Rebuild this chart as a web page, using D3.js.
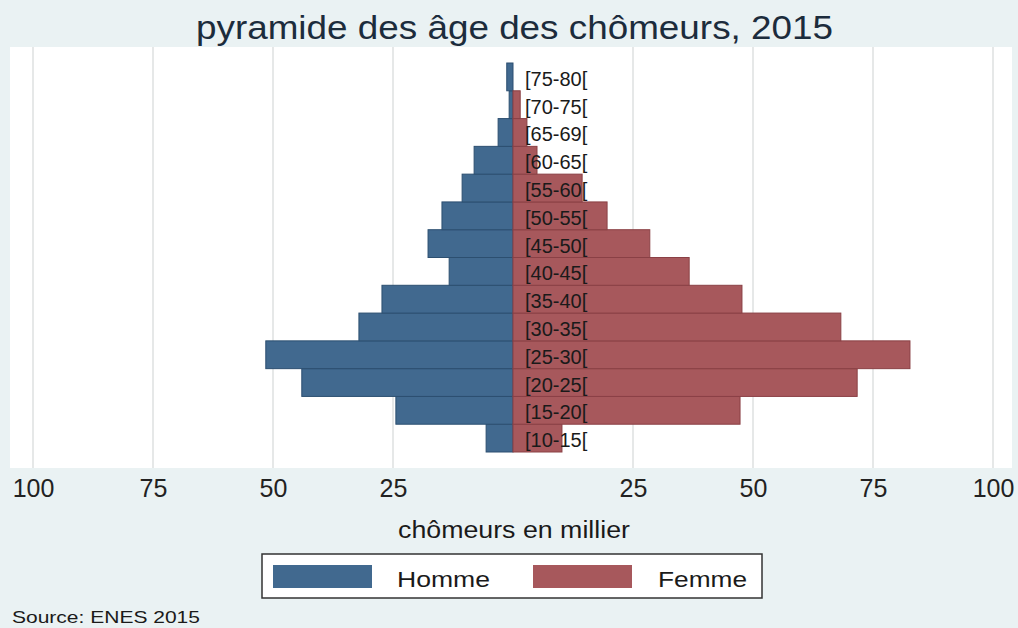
<!DOCTYPE html>
<html>
<head>
<meta charset="utf-8">
<script src="https://cdn.jsdelivr.net/npm/d3@7"></script>
<style>
  body { margin: 0; background: #eaf2f3; }
  text { font-family: "Liberation Sans", Arial, sans-serif; }
</style>
</head>
<body>
<div id="chart"></div>
<script>
// age groups, bottom to top
var ages = ["[10-15[", "[15-20[", "[20-25[", "[25-30[", "[30-35[", "[35-40[", "[40-45[",
    "[45-50[", "[50-55[", "[55-60[", "[60-65[", "[65-69[", "[70-75[", "[75-80["];
// chomeurs en millier
var homme = [5.6, 24.4, 44.0, 51.5, 32.1, 27.3, 13.3, 17.7, 14.8, 10.6, 8.1, 3.1, 0.8, 1.3];
var femme = [10.2, 47.3, 71.7, 82.7, 68.3, 47.7, 36.7, 28.5, 19.6, 14.4, 5.0, 2.9, 1.5, 0];
var tickValues = [-100, -75, -50, -25, 25, 50, 75, 100];

var width = 1018, height = 628;
var blue = "#41698f", red = "#a7585c";

var svg = d3.select("#chart").append("svg")
    .attr("width", width)
    .attr("height", height);

svg.append("rect")
    .attr("width", width).attr("height", height)
    .attr("fill", "#eaf2f3");

// plot region
var plotTop = 47, plotBottom = 468;
svg.append("rect")
    .attr("x", 10).attr("y", plotTop)
    .attr("width", 1002).attr("height", plotBottom - plotTop)
    .attr("fill", "#ffffff");

var x = d3.scaleLinear().domain([-100, 100]).range([33, 993]);
var y = d3.scaleBand().domain(ages).range([452, 63]).padding(0);

// gridlines
svg.append("g").selectAll("line")
    .data(tickValues)
    .enter().append("line")
    .attr("x1", function(d) { return x(d); })
    .attr("x2", function(d) { return x(d); })
    .attr("y1", plotTop)
    .attr("y2", plotBottom)
    .attr("stroke", "#e6e8e8")
    .attr("stroke-width", 2);

var rows = ages.map(function(a, i) { return { age: a, h: homme[i], f: femme[i] }; });

// Homme bars (left)
svg.append("g").selectAll("rect")
    .data(rows)
    .enter().append("rect")
    .attr("x", function(d) { return x(-d.h); })
    .attr("y", function(d) { return y(d.age); })
    .attr("width", function(d) { return x(0) - x(-d.h); })
    .attr("height", y.bandwidth())
    .attr("fill", blue)
    .attr("stroke", "#2c4f70")
    .attr("stroke-width", 1);

// Femme bars (right)
svg.append("g").selectAll("rect")
    .data(rows.filter(function(d) { return d.f > 0; }))
    .enter().append("rect")
    .attr("x", x(0))
    .attr("y", function(d) { return y(d.age); })
    .attr("width", function(d) { return x(d.f) - x(0); })
    .attr("height", y.bandwidth())
    .attr("fill", red)
    .attr("stroke", "#8a4045")
    .attr("stroke-width", 1);

// age labels
svg.append("g").selectAll("text")
    .data(rows)
    .enter().append("text")
    .attr("x", x(0) + 12)
    .attr("y", function(d) { return y(d.age) + y.bandwidth() / 2 + 9; })
    .attr("font-size", 20)
    .attr("fill", "#1a1a1a")
    .text(function(d) { return d.age; });

// x axis labels
var xAxis = d3.axisBottom(x)
    .tickValues(tickValues)
    .tickFormat(function(d) { return Math.abs(d); })
    .tickSize(0)
    .tickPadding(0);

var xG = svg.append("g")
    .attr("transform", "translate(0,479)")
    .call(xAxis);
xG.select(".domain").remove();
xG.selectAll("text")
    .attr("font-size", 25)
    .attr("font-family", "Liberation Sans, Arial, sans-serif")
    .attr("fill", "#222")
    .attr("dy", "0.71em");

// title
svg.append("text")
    .attr("x", 196).attr("y", 39)
    .attr("font-size", 33)
    .attr("fill", "#1c2c3c")
    .attr("textLength", 637)
    .attr("lengthAdjust", "spacingAndGlyphs")
    .text("pyramide des âge des chômeurs, 2015");

// axis title
svg.append("text")
    .attr("x", 398).attr("y", 538)
    .attr("font-size", 23)
    .attr("fill", "#1a1a1a")
    .attr("textLength", 232)
    .attr("lengthAdjust", "spacingAndGlyphs")
    .text("chômeurs en millier");

// legend
var legend = svg.append("g");
legend.append("rect")
    .attr("x", 262).attr("y", 554)
    .attr("width", 500).attr("height", 44)
    .attr("fill", "#ffffff")
    .attr("stroke", "#333")
    .attr("stroke-width", 1.5);

var legendItems = [
    { label: "Homme", color: blue, kx: 273, tx: 397, tl: 93 },
    { label: "Femme", color: red, kx: 533, tx: 658, tl: 89 }
];
legendItems.forEach(function(d) {
    legend.append("rect")
        .attr("x", d.kx).attr("y", 565)
        .attr("width", 99).attr("height", 23)
        .attr("fill", d.color);
    legend.append("text")
        .attr("x", d.tx).attr("y", 587)
        .attr("font-size", 22)
        .attr("fill", "#1a1a1a")
        .attr("textLength", d.tl)
        .attr("lengthAdjust", "spacingAndGlyphs")
        .text(d.label);
});

// source note
svg.append("text")
    .attr("x", 12).attr("y", 623)
    .attr("font-size", 17)
    .attr("fill", "#1a1a1a")
    .attr("textLength", 188)
    .attr("lengthAdjust", "spacingAndGlyphs")
    .text("Source: ENES 2015");
</script>
</body>
</html>
